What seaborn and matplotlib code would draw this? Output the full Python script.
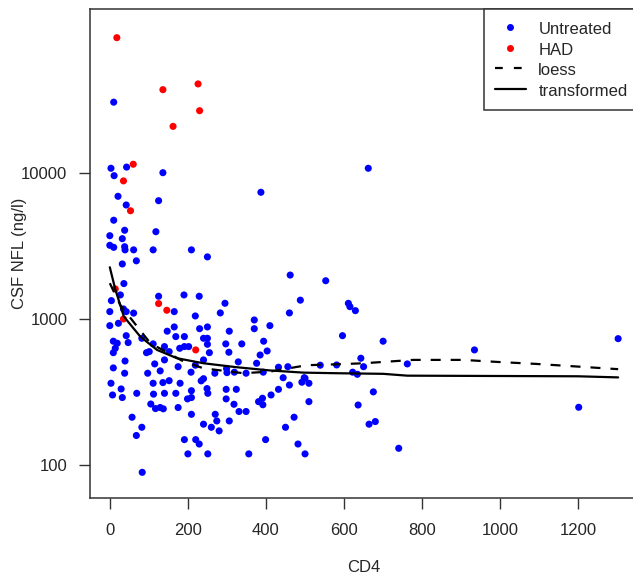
import numpy as np
import pandas as pd
import matplotlib
matplotlib.use('Agg')
import matplotlib.pyplot as plt
import seaborn as sns
from matplotlib.lines import Line2D
from matplotlib.ticker import FixedLocator, FixedFormatter, NullLocator

# Estilo tipo R base
sns.set_style('white')
plt.rcParams['font.family'] = ['Liberation Sans', 'DejaVu Sans']

# Datos (CD4, CSF NFL en ng/l)
had_cd4 = [18, 136, 226, 230, 162, 60, 35, 53, 14, 125, 146, 35, 220]
had_nfl = [83700, 36900, 40400, 26500, 20700, 11400, 8770, 5480, 1600, 1270, 1143, 997, 612]

untreated_cd4 = [
    10, 3, 43, 11, 136, 21, 387, 125, 42, 10,
    0, 38, 32, 118, 0, 10, 38, 39, 61, 111,
    209, 250, 68, 32, 462, 553, 36, 27, 125, 190,
    229, 4, 165, 295, 488, 460, 283, 219, 0, 35,
    42, 61, 22, 0, 165, 230, 250, 370, 370, 410,
    147, 306, 42, 82, 169, 191, 240, 250, 9, 19,
    47, 111, 250, 297, 338, 394, 14, 9, 94, 140,
    179, 191, 202, 255, 305, 385, 403, 152, 101, 39,
    140, 115, 240, 329, 376, 9, 175, 219, 299, 432,
    456, 539, 581, 38, 97, 129, 208, 269, 300, 319,
    393, 444, 498, 349, 234, 240,
    3, 7, 29, 32, 69, 111, 112, 136, 152, 140,
    169, 180, 209, 199, 209, 249, 251, 298, 324, 298,
    318, 331, 349, 105, 117, 129, 137, 175, 209, 57,
    82, 68, 270, 274, 260, 280, 240, 306, 191, 220,
    229, 200, 251, 356, 83, 381, 391, 392, 413, 432,
    460, 510, 472, 450, 399, 482, 500, 492, 500, 510,
    662, 611, 615, 629, 596, 700, 934, 1302, 643, 650,
    762, 622, 634, 675, 636, 1201, 664, 680, 740,
]
untreated_nfl = [
    30300, 10700, 10900, 9520, 9980, 6880, 7330, 6420, 6000, 4720,
    3700, 4030, 3530, 3940, 3180, 3080, 3110, 2960, 2960, 2960,
    2960, 2650, 2490, 2370, 1990, 1820, 1740, 1455, 1425, 1455,
    1425, 1330, 1119, 1276, 1340, 1096, 1096, 1045, 1119, 1167,
    1119, 1093, 931, 897, 879, 855, 879, 981, 855, 897,
    822, 822, 766, 735, 755, 755, 735, 735, 702, 680,
    687, 673, 669, 673, 673, 702, 628, 586, 586, 645,
    628, 645, 645, 586, 590, 565, 602, 596, 596, 514,
    523, 491, 523, 507, 496, 461, 470, 481, 456, 466,
    470, 481, 483, 424, 424, 440, 431, 424, 428, 431,
    431, 395, 395, 424, 376, 389,
    362, 301, 331, 289, 309, 362, 305, 366, 377, 309,
    309, 362, 322, 283, 289, 333, 309, 329, 329, 283,
    260, 232, 232, 261, 243, 247, 242, 247, 222, 212,
    181, 159, 222, 200, 181, 171, 190, 200, 149, 149,
    139, 119, 119, 119, 89, 271, 286, 258, 301, 329,
    352, 271, 212, 181, 149, 139, 119, 368, 392, 362,
    10700, 1275, 1210, 1136, 766, 702, 612, 731, 537, 470,
    491, 431, 417, 316, 257, 248, 190, 198, 130,
]

# Curvas ajustadas
loess_cd4 = [0, 27, 70, 104, 189, 240, 342, 410, 504, 581, 650, 777, 905, 990, 1092, 1203, 1302]
loess_nfl = [1750, 1240, 885, 680, 510, 458, 424, 435, 481, 488, 496, 523, 523, 507, 491, 470, 452]
trans_cd4 = [0, 14, 36, 78, 121, 172, 240, 325, 410, 496, 581, 700, 762, 1200, 1302]
trans_nfl = [2250, 1590, 1035, 755, 612, 537, 496, 466, 443, 428, 424, 420, 408, 404, 397]

x_ticks = [0, 200, 400, 600, 800, 1000, 1200]
y_ticks = [100, 1000, 10000]
y_tick_labels = ['100', '1000', '10000']

df = pd.DataFrame({
    'CD4': untreated_cd4 + had_cd4,
    'NFL': untreated_nfl + had_nfl,
    'grupo': ['Untreated'] * len(untreated_cd4) + ['HAD'] * len(had_cd4),
})

fig = plt.figure(figsize=(6.33, 5.78), dpi=100)
ax = fig.add_axes([0.1414, 0.1384, 0.8672, 0.8452])

sns.scatterplot(data=df, x='CD4', y='NFL', hue='grupo',
                palette={'Untreated': '#0000ff', 'HAD': '#ff0000'},
                s=26, linewidth=0, legend=False, ax=ax, zorder=2)
sns.lineplot(x=loess_cd4, y=loess_nfl, ax=ax, color='black', lw=1.6,
             linestyle=(0, (4.5, 4.5)), estimator=None, sort=False, zorder=3)
sns.lineplot(x=trans_cd4, y=trans_nfl, ax=ax, color='black', lw=1.6,
             estimator=None, sort=False, zorder=3)

ax.set_yscale('log')
ax.set_xlim(-52, 1354)
ax.set_ylim(59.4, 130500)

ax.xaxis.set_major_locator(FixedLocator(x_ticks))
ax.yaxis.set_major_locator(FixedLocator(y_ticks))
ax.yaxis.set_major_formatter(FixedFormatter(y_tick_labels))
ax.yaxis.set_minor_locator(NullLocator())
ax.tick_params(axis='both', which='major', direction='out', length=8, width=1,
               color='#333333', labelsize=12, bottom=True, left=True)
ax.tick_params(axis='x', pad=10)
ax.tick_params(axis='y', pad=8)

for sp in ax.spines.values():
    sp.set_color('#333333')
    sp.set_linewidth(1.1)

ax.set_xlabel('CD4', fontsize=12, labelpad=16)
ax.set_ylabel('CSF NFL (ng/l)', fontsize=12)
# etiqueta y entre los numeros del eje, como en R
ax.yaxis.set_label_coords(-0.114, 0.5)

handles = [
    Line2D([], [], marker='o', color='#0000ff', linestyle='none', markersize=4),
    Line2D([], [], marker='o', color='#ff0000', linestyle='none', markersize=4),
    Line2D([], [], color='black', lw=1.6, linestyle=(0, (3.5, 5))),
    Line2D([], [], color='black', lw=1.6),
]
leg = ax.legend(handles, ['Untreated', 'HAD', 'loess', 'transformed'],
                loc='upper right', bbox_to_anchor=(1, 1), borderaxespad=0,
                fontsize=12, frameon=True, fancybox=False, framealpha=1,
                edgecolor='#333333', handlelength=1.85, handletextpad=0.75,
                handleheight=1.2, labelspacing=0.2, borderpad=0.65)
leg.get_frame().set_linewidth(1.1)

fig.savefig('out.png', dpi=100)
